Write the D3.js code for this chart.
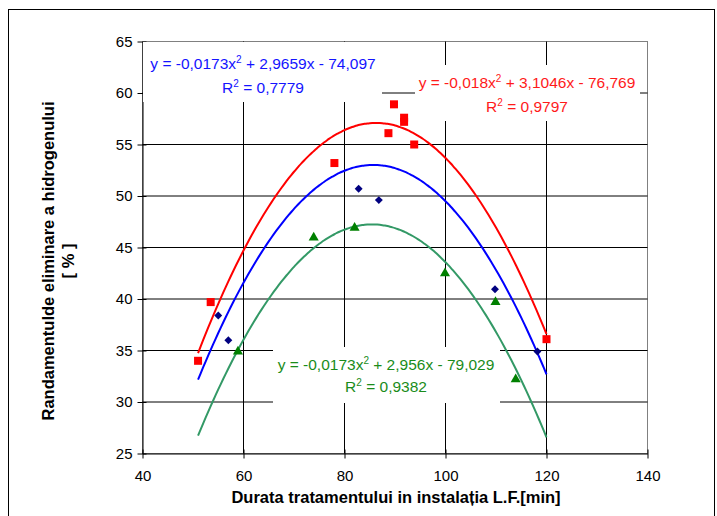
<!DOCTYPE html>
<html><head><meta charset="utf-8">
<script src="https://cdn.jsdelivr.net/npm/d3@7"></script>
<style>body{margin:0;background:#fff}svg{display:block}text{font-family:"Liberation Sans",Arial,sans-serif}</style>
</head><body><svg id="c" width="717" height="516"></svg>
<script>
const xTicks = [40, 60, 80, 100, 120, 140];
const yTicks = [25, 30, 35, 40, 45, 50, 55, 60, 65];

const redX = [51, 53.5, 78, 88.7, 89.8, 91.8, 91.8, 93.8, 120];
const redY = [34.0, 39.7, 53.2, 56.1, 58.9, 57.2, 57.6, 55.0, 36.1];

const blueX = [55, 57, 82.8, 86.8, 109.8, 118.2];
const blueY = [38.4, 36.0, 50.7, 49.6, 40.95, 34.9];

const greenX = [58.9, 73.9, 82.0, 99.9, 109.9, 113.9];
const greenY = [34.9, 45.96, 46.9, 42.5, 39.7, 32.2];

// trendline coefficients [a, b, c] as printed on the chart
const redFit = [-0.018, 3.1046, -76.769];
const blueFit = [-0.0173, 2.9659, -74.097];
const greenFit = [-0.0173, 2.956, -79.029];
const fitRange = [51, 120];

const redLabel = ["y = -0,018x", "2", " + 3,1046x - 76,769", "R", "2", " = 0,9797"];
const blueLabel = ["y = -0,0173x", "2", " + 2,9659x - 74,097", "R", "2", " = 0,7779"];
const greenLabel = ["y = -0,0173x", "2", " + 2,956x - 79,029", "R", "2", " = 0,9382"];

const svg = d3.select("#c");
const x = d3.scaleLinear().domain([40, 140]).range([142.5, 647.5]);
const y = d3.scaleLinear().domain([25, 65]).range([453.5, 41.5]);

// outer frame
svg.append("rect").attr("x", 8.5).attr("y", 9.5).attr("width", 706).attr("height", 520)
  .attr("fill", "none").attr("stroke", "#000");

// plot border (top/right gray)
svg.append("rect").attr("x", x(40)).attr("y", y(65)).attr("width", x(140) - x(40)).attr("height", y(25) - y(65))
  .attr("fill", "none").attr("stroke", "#808080");

// gridlines
const g = svg.append("g");
g.selectAll(".vg").data(xTicks.slice(1, -1)).join("line")
  .attr("x1", d => x(d)).attr("x2", d => x(d)).attr("y1", y(65)).attr("y2", y(25))
  .attr("stroke", "#000");
g.selectAll(".hg").data(yTicks.slice(1, -1)).join("line")
  .attr("x1", x(40)).attr("x2", x(140)).attr("y1", d => y(d)).attr("y2", d => y(d))
  .attr("stroke", "#000");

// axes
const xAxis = svg.append("g").attr("transform", `translate(0,${y(25)})`)
  .call(d3.axisBottom(x).tickValues(xTicks).tickSize(0).tickPadding(17).tickSizeOuter(0));
xAxis.select(".domain").attr("stroke", "#000");
xAxis.selectAll(".tick").append("line").attr("y1", -4).attr("y2", 5).attr("stroke", "#000");
xAxis.selectAll("text").attr("font-size", 15).attr("fill", "#000");

const yAxis = svg.append("g").attr("transform", `translate(${x(40)},0)`)
  .call(d3.axisLeft(y).tickValues(yTicks).tickSize(0).tickPadding(10).tickSizeOuter(0));
yAxis.select(".domain").attr("stroke", "#000");
yAxis.selectAll(".tick").append("line").attr("x1", -5).attr("x2", 4).attr("stroke", "#000");
yAxis.selectAll("text").attr("font-size", 15).attr("fill", "#000");

// axis titles
svg.append("text").attr("x", 396).attr("y", 503).attr("text-anchor", "middle")
  .attr("font-size", 16.5).attr("font-weight", "bold").text("Durata tratamentului in instalația L.F.[min]");
const yt = svg.append("text").attr("transform", "translate(54,261) rotate(-90)").attr("text-anchor", "middle")
  .attr("font-size", 16.5).attr("font-weight", "bold");
yt.append("tspan").attr("x", 0).attr("dy", 0).text("Randamentulde eliminare a hidrogenului");
yt.append("tspan").attr("x", 0).attr("dy", 20).text("[ % ]");

// label backgrounds
function labelBox(x0, y0, w, h) {
  svg.append("rect").attr("x", x0).attr("y", y0).attr("width", w).attr("height", h).attr("fill", "#fff");
}
labelBox(143, 42, 239, 60);
labelBox(415, 65, 225, 56);
labelBox(273, 347, 227, 56);

// trendlines
const line = d3.line().x(d => x(d[0])).y(d => y(d[1])).curve(d3.curveMonotoneX);
function fitPts(c) {
  const pts = [];
  for (let v = fitRange[0]; v <= fitRange[1] + 1e-9; v += 0.5) pts.push([v, c[0] * v * v + c[1] * v + c[2]]);
  return pts;
}
[[redFit, "#ff0000"], [blueFit, "#0000ff"], [greenFit, "#339966"]].forEach(([c, col]) => {
  svg.append("path").attr("d", line(fitPts(c))).attr("fill", "none").attr("stroke", col).attr("stroke-width", 2);
});

// markers
const pts = (xs, ys) => xs.map((v, i) => [v, ys[i]]);
svg.append("g").selectAll("path").data(pts(blueX, blueY)).join("path")
  .attr("transform", d => `translate(${x(d[0])},${y(d[1])})`)
  .attr("d", d3.symbol().type(d3.symbolDiamond2).size(40)).attr("fill", "#000080");
svg.append("g").selectAll("path").data(pts(greenX, greenY)).join("path")
  .attr("transform", d => `translate(${x(d[0])},${y(d[1])})`)
  .attr("d", d3.symbol().type(d3.symbolTriangle).size(44)).attr("fill", "#008000");
svg.append("g").selectAll("rect").data(pts(redX, redY)).join("rect")
  .attr("x", d => x(d[0]) - 4).attr("y", d => y(d[1]) - 4).attr("width", 8).attr("height", 8).attr("fill", "#ff0000");

// equation labels
function eqLabel(parts, cx, y1, y2, col) {
  const t1 = svg.append("text").attr("x", cx).attr("y", y1).attr("text-anchor", "middle").attr("font-size", 15.5).attr("fill", col);
  t1.append("tspan").text(parts[0]);
  t1.append("tspan").attr("dy", -6).attr("font-size", 10).text(parts[1]);
  t1.append("tspan").attr("dy", 6).text(parts[2]);
  const t2 = svg.append("text").attr("x", cx).attr("y", y2).attr("text-anchor", "middle").attr("font-size", 15.5).attr("fill", col);
  t2.append("tspan").text(parts[3]);
  t2.append("tspan").attr("dy", -6).attr("font-size", 10).text(parts[4]);
  t2.append("tspan").attr("dy", 6).text(parts[5]);
}
eqLabel(blueLabel, 263, 69, 93, "#1414ff");
eqLabel(redLabel, 527, 88, 112, "#ff1a1a");
eqLabel(greenLabel, 386, 370, 392, "#1a8c1a");
</script></body></html>
